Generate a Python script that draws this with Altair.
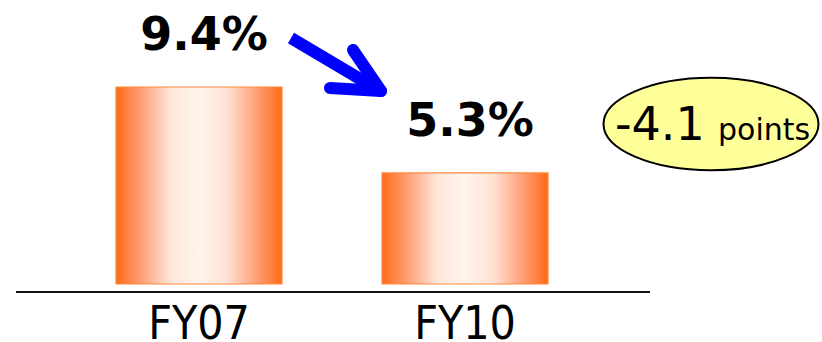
import altair as alt
import pandas as pd

categories = ["FY07", "FY10"]
values = [9.4, 5.3]
value_labels = ["9.4%", "5.3%"]
change_main = "-4.1"
change_unit = "points"

df = pd.DataFrame({"cat": categories, "val": values, "lab": value_labels})

W, H = 822, 342
x_scale = alt.Scale(domain=categories, range=[62.8, 601.2], paddingInner=0.376, paddingOuter=0.2)
y_scale = alt.Scale(domain=[-2.768, 13.552], nice=False, zero=False)

grad = alt.Gradient(
    gradient="linear",
    stops=[
        alt.GradientStop(color="#FF6A18", offset=0),
        alt.GradientStop(color="#FF9E74", offset=0.15),
        alt.GradientStop(color="#FFE6DA", offset=0.33),
        alt.GradientStop(color="#FFF5EE", offset=0.5),
        alt.GradientStop(color="#FFE2D4", offset=0.67),
        alt.GradientStop(color="#FF9E74", offset=0.85),
        alt.GradientStop(color="#FF6A18", offset=1),
    ],
    x1=0, x2=1, y1=0, y2=0,
)

base = alt.Chart(df)

bars = base.mark_bar(color=grad, stroke="#FF8A3D", strokeWidth=1.2).encode(
    x=alt.X("cat:N", scale=x_scale, axis=None),
    y=alt.Y("val:Q", scale=y_scale, axis=None),
    y2=alt.datum(0),
)

vlabels = base.mark_text(
    font="DejaVu Sans", fontWeight="bold", fontSize=46, baseline="alphabetic",
    align="center", dy=-37, dx=5, color="black",
).encode(
    x=alt.X("cat:N", scale=x_scale, axis=None),
    y=alt.Y("val:Q", scale=y_scale, axis=None),
    text="lab:N",
)

clabels = base.mark_text(
    font="DejaVu Sans Condensed, Liberation Sans Narrow, Liberation Sans",
    fontSize=46, baseline="alphabetic", align="center", color="black",
).encode(
    x=alt.X("cat:N", scale=x_scale, axis=None),
    y=alt.value(339),
    text="cat:N",
)

ann = pd.DataFrame({"k": [0]})
abase = alt.Chart(ann)

baseline = abase.mark_rule(color="#111111", strokeWidth=2).encode(
    x=alt.value(16), x2=alt.value(650), y=alt.value(292)
)

shaft = abase.mark_rule(color="#0000FF", strokeWidth=12, strokeCap="butt").encode(
    x=alt.value(291), y=alt.value(38), x2=alt.value(377), y2=alt.value(89)
)
arm1 = abase.mark_rule(color="#0000FF", strokeWidth=12, strokeCap="round").encode(
    x=alt.value(353), y=alt.value(50), x2=alt.value(381), y2=alt.value(91)
)
arm2 = abase.mark_rule(color="#0000FF", strokeWidth=12, strokeCap="round").encode(
    x=alt.value(330), y=alt.value(88), x2=alt.value(381), y2=alt.value(91)
)

ellipse = abase.mark_point(
    shape="M -1 0 A 1 0.43 0 1 0 1 0 A 1 0.43 0 1 0 -1 0 Z",
    size=215 * 215, filled=True, fill="#FFFF99", stroke="black", strokeWidth=2, opacity=1,
).encode(x=alt.value(711), y=alt.value(124))

t1 = abase.mark_text(
    text=change_main, font="DejaVu Sans",
    fontSize=46, align="left", baseline="alphabetic", color="black",
).encode(x=alt.value(615), y=alt.value(140))
t2 = abase.mark_text(
    text=change_unit, font="DejaVu Sans",
    fontSize=30, align="left", baseline="alphabetic", color="black",
).encode(x=alt.value(718), y=alt.value(140))

chart = alt.layer(
    baseline, bars, vlabels, clabels, shaft, arm1, arm2, ellipse, t1, t2
).properties(
    width=W, height=H, padding=0, autosize=alt.AutoSizeParams(type="none")
).configure_view(stroke=None)

chart.save("out.html", embed_options={"renderer": "svg", "actions": False})
